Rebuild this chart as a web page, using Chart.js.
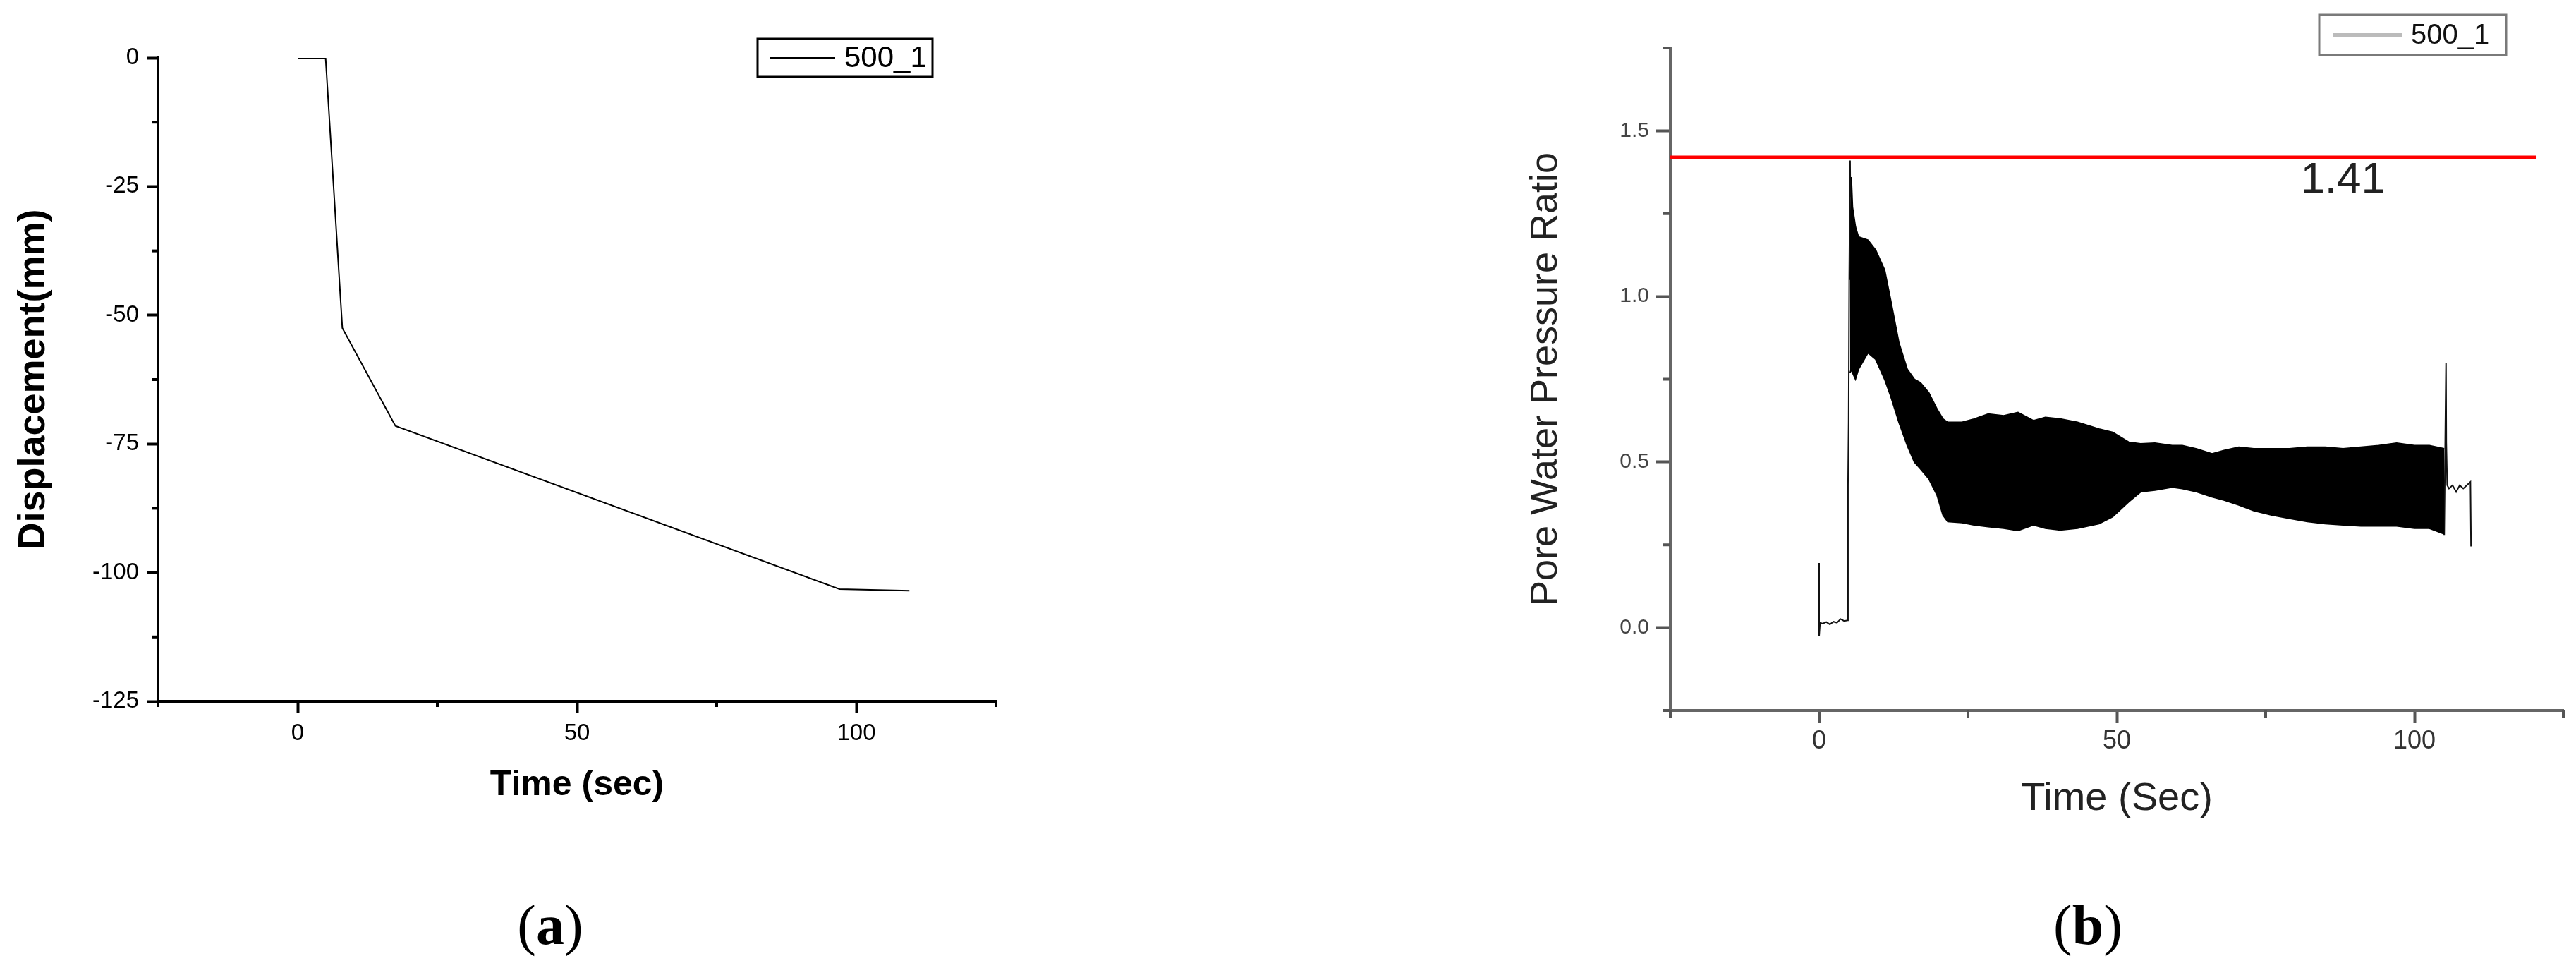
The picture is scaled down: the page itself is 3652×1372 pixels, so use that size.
<!DOCTYPE html>
<html>
<head>
<meta charset="utf-8">
<script src="https://cdn.jsdelivr.net/npm/chart.js@4.4.1/dist/chart.umd.min.js"></script>
<style>
  body { margin: 0; background: #fff; width: 3652px; height: 1372px; position: relative; overflow: hidden; }
  canvas { position: absolute; top: 0; }
  #chartA { left: 0; }
  #chartB { left: 2050px; }
  .cap { position: absolute; top: 1261px; width: 200px; text-align: center; font-family: 'Liberation Serif', 'Times New Roman', serif; font-size: 80px; line-height: 100px; color: #000; }
</style>
</head>
<body>
<canvas id="chartA" width="1500" height="1200"></canvas>
<canvas id="chartB" width="1602" height="1200"></canvas>
<div class="cap" style="left:680px">(<b>a</b>)</div>
<div class="cap" style="left:2860px">(<b>b</b>)</div>
<script>
// (a) settlement curve
var timeA = [0, 5, 8, 17.5, 97, 109.5];
var dispA = [0, 0, -52.5, -71.5, -103.2, -103.5];

// (b) pore water pressure ratio
// record before shaking and the first rise
var preTime  = [0, 0, 0.15, 0.6, 1.2, 1.8, 2.4, 3.0, 3.6, 4.2, 4.8, 4.85, 4.95, 5.05, 5.2, 5.25];
var preRatio = [0.195, -0.025, 0.015, 0.012, 0.017, 0.01, 0.018, 0.015, 0.026, 0.02, 0.022, 0.43, 0.62, 1.05, 1.41, 1.3];
// envelope of the oscillating part (upper / lower peaks)
var bandTime  = [5.2, 5.4, 5.6, 6.1, 6.6, 8.2, 9.5, 11, 12, 13.4, 14.8, 16, 17, 18.4, 19.8, 20.8, 21.6, 24, 26, 28.4, 31, 33.4, 36, 38, 40.5, 43.4, 47, 49.3, 52, 54, 56.4, 59.3, 61, 63.4, 66, 68, 70.5, 73, 76, 79, 82, 85, 88, 91, 94, 97, 100, 102.5, 105];
var bandUpper = [1.05, 1.36, 1.27, 1.21, 1.18, 1.17, 1.14, 1.08, 0.99, 0.86, 0.78, 0.75, 0.74, 0.71, 0.66, 0.63, 0.62, 0.62, 0.63, 0.645, 0.64, 0.65, 0.625, 0.635, 0.63, 0.62, 0.60, 0.59, 0.56, 0.555, 0.557, 0.55, 0.55, 0.54, 0.525, 0.535, 0.545, 0.54, 0.54, 0.54, 0.545, 0.545, 0.54, 0.545, 0.55, 0.557, 0.55, 0.55, 0.54];
var bandLower = [0.77, 0.78, 0.77, 0.75, 0.78, 0.83, 0.81, 0.75, 0.70, 0.62, 0.55, 0.50, 0.48, 0.45, 0.40, 0.34, 0.32, 0.317, 0.31, 0.305, 0.30, 0.293, 0.31, 0.30, 0.295, 0.30, 0.314, 0.335, 0.38, 0.41, 0.415, 0.424, 0.42, 0.41, 0.395, 0.385, 0.37, 0.353, 0.34, 0.33, 0.32, 0.314, 0.31, 0.307, 0.307, 0.307, 0.30, 0.30, 0.283];
// end of record
var tailTime  = [105, 105.3, 105.35, 105.5, 105.8, 106.4, 107, 107.6, 108.2, 108.8, 109.4, 109.5];
var tailRatio = [0.28, 0.80, 0.56, 0.43, 0.42, 0.43, 0.41, 0.43, 0.42, 0.43, 0.44, 0.245];
// red reference line and its label
var limitTime  = [-25, 120.5];
var limitRatio = [1.42, 1.42];
var peakText = '1.41';
var peakAt = {x: 88, y: 1.35};

var seriesName = '500_1';

function pts(xs, ys) {
  var out = [];
  for (var i = 0; i < xs.length; i++) out.push({x: xs[i], y: ys[i]});
  return out;
}

function isMajor(v, step) {
  return Math.abs(v / step - Math.round(v / step)) < 1e-6;
}

Chart.defaults.font.family = "'Liberation Sans', Arial, sans-serif";
Chart.defaults.color = '#000';

// short ticks between the labelled ones
var minorTicks = {
  id: 'minorTicks',
  afterDraw: function(chart, args, o) {
    var ctx = chart.ctx;
    ['x', 'y'].forEach(function(id) {
      var s = chart.scales[id];
      ctx.save();
      ctx.strokeStyle = o.color;
      ctx.lineWidth = o.width;
      s.ticks.forEach(function(t) {
        if (isMajor(t.value, o[id])) return;
        var p = s.getPixelForValue(t.value);
        ctx.beginPath();
        if (id == 'x') { ctx.moveTo(p, s.top); ctx.lineTo(p, s.top + o.length); }
        else { ctx.moveTo(s.right, p); ctx.lineTo(s.right - o.length, p); }
        ctx.stroke();
      });
      ctx.restore();
    });
  }
};

// framed legend like the original plots
var boxLegend = {
  id: 'boxLegend',
  afterDraw: function(chart, args, o) {
    var ctx = chart.ctx;
    var cy = o.y + o.h / 2;
    ctx.save();
    ctx.fillStyle = '#fff';
    ctx.fillRect(o.x, o.y, o.w, o.h);
    ctx.strokeStyle = o.borderColor;
    ctx.lineWidth = o.borderWidth;
    ctx.strokeRect(o.x, o.y, o.w, o.h);
    ctx.strokeStyle = o.lineColor;
    ctx.lineWidth = o.lineWidth;
    ctx.beginPath();
    ctx.moveTo(o.x + o.lineFrom, cy);
    ctx.lineTo(o.x + o.lineTo, cy);
    ctx.stroke();
    ctx.fillStyle = o.textColor;
    ctx.font = o.font;
    ctx.textBaseline = 'middle';
    ctx.fillText(chart.data.datasets[0].label, o.x + o.textFrom, cy + 1);
    ctx.restore();
  }
};

// value label placed in data coordinates
var valueLabel = {
  id: 'valueLabel',
  afterDraw: function(chart, args, o) {
    if (!o.text) return;
    var ctx = chart.ctx;
    ctx.save();
    ctx.fillStyle = o.color;
    ctx.font = o.font;
    ctx.textAlign = 'center';
    ctx.textBaseline = 'middle';
    ctx.fillText(o.text, chart.scales.x.getPixelForValue(o.at.x), chart.scales.y.getPixelForValue(o.at.y));
    ctx.restore();
  }
};

window.onload = function() {
  var ctxA = document.getElementById('chartA').getContext('2d');
  window.chartA = new Chart(ctxA, {
    type: 'line',
    data: {
      datasets: [{
        label: seriesName,
        data: pts(timeA, dispA),
        borderColor: '#000',
        borderWidth: 2,
        pointRadius: 0,
        tension: 0,
        fill: false
      }]
    },
    options: {
      responsive: false,
      animation: false,
      layout: { padding: { top: 82, right: 88, left: 0, bottom: 0 } },
      plugins: {
        legend: { display: false },
        tooltip: { enabled: false },
        minorTicks: { x: 50, y: 25, length: 8, width: 4, color: '#000' },
        boxLegend: {
          x: 1074, y: 55, w: 248, h: 54, borderColor: '#000', borderWidth: 3,
          lineColor: '#000', lineWidth: 2, lineFrom: 18, lineTo: 110,
          textFrom: 123, textColor: '#000', font: "42px 'Liberation Sans', Arial, sans-serif"
        },
        valueLabel: {}
      },
      scales: {
        x: {
          type: 'linear', min: -25, max: 125,
          afterFit: function(s) { s.height = 206; },
          ticks: {
            stepSize: 25, autoSkip: false, maxRotation: 0, padding: 10,
            color: '#000', font: { size: 33 },
            callback: function(v) { return isMajor(v, 50) ? v : ''; }
          },
          grid: {
            drawOnChartArea: false, tickLength: 16, tickWidth: 4,
            tickColor: function(c) { return c.tick && isMajor(c.tick.value, 50) ? '#000' : 'rgba(0,0,0,0)'; }
          },
          border: { display: true, width: 4, color: '#000' },
          title: {
            display: true, text: 'Time (sec)', color: '#000',
            font: { size: 50, weight: 'bold' }, padding: { top: 0, bottom: 57 }
          }
        },
        y: {
          type: 'linear', min: -125, max: 0,
          afterFit: function(s) { s.width = 224; },
          ticks: {
            stepSize: 12.5, autoSkip: false, padding: 11,
            color: '#000', font: { size: 33 },
            callback: function(v) { return isMajor(v, 25) ? v : ''; }
          },
          grid: {
            drawOnChartArea: false, tickLength: 16, tickWidth: 4,
            tickColor: function(c) { return c.tick && isMajor(c.tick.value, 25) ? '#000' : 'rgba(0,0,0,0)'; }
          },
          border: { display: true, width: 4, color: '#000' },
          title: {
            display: true, text: 'Displacement(mm)', color: '#000',
            font: { size: 54, weight: 'bold' }, padding: { top: 16, bottom: 0 }
          }
        }
      }
    },
    plugins: [minorTicks, boxLegend, valueLabel]
  });

  var ctxB = document.getElementById('chartB').getContext('2d');
  window.chartB = new Chart(ctxB, {
    type: 'line',
    data: {
      datasets: [{
        label: seriesName,
        data: pts(preTime, preRatio),
        borderColor: '#111', borderWidth: 2, pointRadius: 0, tension: 0, fill: false
      }, {
        label: 'upper',
        data: pts(bandTime, bandUpper),
        borderColor: '#000', borderWidth: 2, pointRadius: 0, tension: 0, fill: false
      }, {
        label: 'lower',
        data: pts(bandTime, bandLower),
        borderColor: '#000', borderWidth: 2, pointRadius: 0, tension: 0,
        fill: '-1', backgroundColor: '#000'
      }, {
        label: 'tail',
        data: pts(tailTime, tailRatio),
        borderColor: '#111', borderWidth: 2, pointRadius: 0, tension: 0, fill: false
      }, {
        label: 'limit',
        data: pts(limitTime, limitRatio),
        borderColor: '#ff0000', borderWidth: 5, pointRadius: 0, tension: 0, fill: false
      }]
    },
    options: {
      responsive: false,
      animation: false,
      layout: { padding: { top: 68, right: 18, left: 0, bottom: 0 } },
      plugins: {
        legend: { display: false },
        tooltip: { enabled: false },
        minorTicks: { x: 50, y: 0.5, length: 10, width: 4, color: '#555' },
        boxLegend: {
          x: 1238, y: 21, w: 265, h: 57, borderColor: '#7a7a7a', borderWidth: 3,
          lineColor: '#bbbbbb', lineWidth: 5, lineFrom: 19, lineTo: 118,
          textFrom: 130, textColor: '#111', font: "40px 'Liberation Sans', Arial, sans-serif"
        },
        valueLabel: { text: peakText, at: peakAt, color: '#222', font: "62px 'Liberation Sans', Arial, sans-serif" }
      },
      scales: {
        x: {
          type: 'linear', min: -25, max: 125,
          afterFit: function(s) { s.height = 193; },
          ticks: {
            stepSize: 25, autoSkip: false, maxRotation: 0, padding: 4,
            color: '#333', font: { size: 36 },
            callback: function(v) { return isMajor(v, 50) ? v : ''; }
          },
          grid: {
            drawOnChartArea: false, tickLength: 18, tickWidth: 4,
            tickColor: function(c) { return c.tick && isMajor(c.tick.value, 50) ? '#555' : 'rgba(0,0,0,0)'; }
          },
          border: { display: true, width: 4, color: '#666' },
          title: {
            display: true, text: 'Time (Sec)', color: '#222',
            font: { size: 56 }, padding: { top: 0, bottom: 34 }
          }
        },
        y: {
          type: 'linear', min: -0.25, max: 1.75,
          afterFit: function(s) { s.width = 318; },
          ticks: {
            stepSize: 0.25, autoSkip: false, padding: 10,
            color: '#444', font: { size: 30 },
            callback: function(v) { return isMajor(v, 0.5) ? v.toFixed(1) : ''; }
          },
          grid: {
            drawOnChartArea: false, tickLength: 20, tickWidth: 4,
            tickColor: function(c) { return c.tick && isMajor(c.tick.value, 0.5) ? '#555' : 'rgba(0,0,0,0)'; }
          },
          border: { display: true, width: 4, color: '#666' },
          title: {
            display: true, text: 'Pore Water Pressure Ratio', color: '#222',
            font: { size: 54 }, padding: { top: 110, bottom: 0 }
          }
        }
      }
    },
    plugins: [minorTicks, boxLegend, valueLabel]
  });
};
</script>
</body>
</html>
